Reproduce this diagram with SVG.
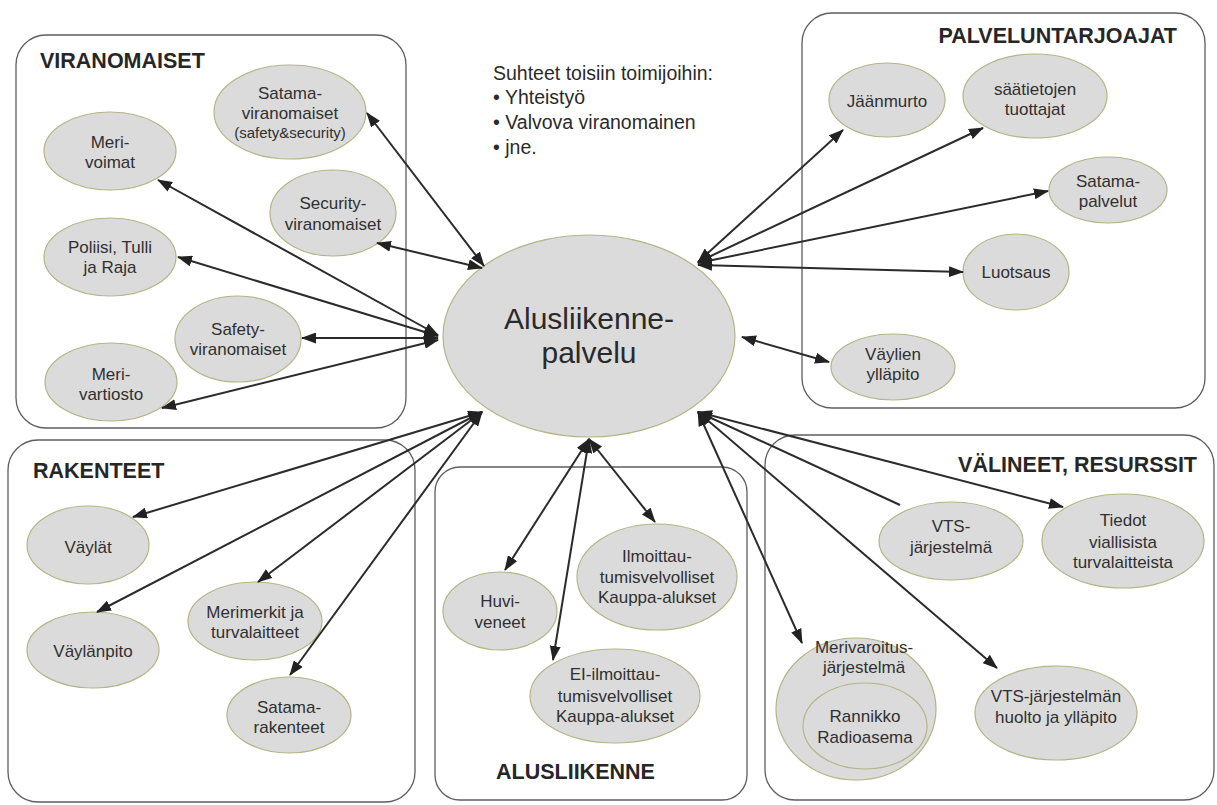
<svg xmlns="http://www.w3.org/2000/svg" width="1217" height="805" viewBox="0 0 1217 805">
<style>
.box{fill:none;stroke:#5e5e5e;stroke-width:1.3}
.ttl{font-family:"Liberation Sans",Arial,sans-serif;font-weight:bold;font-size:21.5px;fill:#262626}
.nd ellipse{fill:#dbdbdb;stroke:#b4b486;stroke-width:1.2}
.nd text{font-family:"Liberation Sans",Arial,sans-serif;font-size:17px;fill:#303030;text-anchor:middle}
.nd text.sm{font-size:15px}
.hub text{font-size:30px;fill:#2a2a2a}
.note{font-family:"Liberation Sans",Arial,sans-serif;font-size:19.5px;fill:#2a2a2a}
.cn line{stroke:#2b2b2b;stroke-width:2}
.bi{marker-start:url(#ah);marker-end:url(#ah)}
.sg{marker-start:url(#ah)}
</style>
<defs>
<marker id="ah" markerUnits="userSpaceOnUse" markerWidth="15" markerHeight="11" refX="14" refY="5.5" orient="auto-start-reverse" viewBox="0 0 15 11">
<path d="M0,0 L15,5.5 L0,11 z" fill="#222"/>
</marker>
</defs>
<rect width="1217" height="805" fill="#fff"/>

<g id="groups">
<rect class="box" x="16" y="35" width="390" height="393" rx="30"/>
<text class="ttl" x="40" y="68">VIRANOMAISET</text>
<rect class="box" x="802" y="13" width="403" height="395" rx="30"/>
<text class="ttl" x="1177" y="43" text-anchor="end">PALVELUNTARJOAJAT</text>
<rect class="box" x="8" y="440" width="407" height="362" rx="30"/>
<text class="ttl" x="33" y="478">RAKENTEET</text>
<rect class="box" x="435" y="467" width="312" height="333" rx="25"/>
<text class="ttl" x="496" y="779">ALUSLIIKENNE</text>
<rect class="box" x="765" y="435" width="449" height="365" rx="30"/>
<text class="ttl" x="1197" y="472" text-anchor="end">VÄLINEET, RESURSSIT</text>
</g>

<g id="note" class="note">
<text x="493" y="80">Suhteet toisiin toimijoihin:</text>
<text x="493" y="104">• Yhteistyö</text>
<text x="493" y="129">• Valvova viranomainen</text>
<text x="493" y="154">• jne.</text>
</g>

<g id="n-hub" class="nd hub"><ellipse cx="589" cy="336" rx="146" ry="101"/><text x="589" y="329">Alusliikenne-</text><text x="589" y="363">palvelu</text></g>

<g id="n-satamaviranomaiset" class="nd"><ellipse cx="290" cy="112" rx="76" ry="47"/><text x="290" y="99">Satama-</text><text x="290" y="119">viranomaiset</text><text class="sm" x="290" y="138">(safety&amp;security)</text></g>
<g id="n-merivoimat" class="nd"><ellipse cx="110" cy="151" rx="66" ry="39"/><text x="110" y="148">Meri-</text><text x="110" y="168">voimat</text></g>
<g id="n-security" class="nd"><ellipse cx="333" cy="213" rx="63" ry="43"/><text x="333" y="209">Security-</text><text x="333" y="230">viranomaiset</text></g>
<g id="n-poliisi" class="nd"><ellipse cx="110" cy="257" rx="66" ry="39"/><text x="110" y="253">Poliisi, Tulli</text><text x="110" y="273">ja Raja</text></g>
<g id="n-safety" class="nd"><ellipse cx="238" cy="339" rx="63" ry="43"/><text x="238" y="335">Safety-</text><text x="238" y="355">viranomaiset</text></g>
<g id="n-merivartiosto" class="nd"><ellipse cx="111" cy="382" rx="66" ry="39"/><text x="111" y="380">Meri-</text><text x="111" y="400">vartiosto</text></g>

<g id="n-jaanmurto" class="nd"><ellipse cx="887" cy="100" rx="58" ry="37"/><text x="887" y="107">Jäänmurto</text></g>
<g id="n-saatietojen" class="nd"><ellipse cx="1035" cy="96" rx="72" ry="42"/><text x="1035" y="95">säätietojen</text><text x="1035" y="115">tuottajat</text></g>
<g id="n-satamapalvelut" class="nd"><ellipse cx="1108" cy="190" rx="59" ry="33"/><text x="1108" y="187">Satama-</text><text x="1108" y="207">palvelut</text></g>
<g id="n-luotsaus" class="nd"><ellipse cx="1016" cy="272" rx="53" ry="38"/><text x="1016" y="278">Luotsaus</text></g>
<g id="n-vaylienyllapito" class="nd"><ellipse cx="893" cy="367" rx="62" ry="33"/><text x="893" y="360">Väylien</text><text x="893" y="380">ylläpito</text></g>

<g id="n-vaylat" class="nd"><ellipse cx="88" cy="545" rx="61" ry="39"/><text x="88" y="553">Väylät</text></g>
<g id="n-vaylanpito" class="nd"><ellipse cx="93" cy="650" rx="66" ry="38"/><text x="93" y="657">Väylänpito</text></g>
<g id="n-merimerkit" class="nd"><ellipse cx="255" cy="621" rx="67" ry="39"/><text x="255" y="618">Merimerkit ja</text><text x="255" y="638">turvalaitteet</text></g>
<g id="n-satamarakenteet" class="nd"><ellipse cx="289" cy="715" rx="62" ry="38"/><text x="289" y="713">Satama-</text><text x="289" y="733">rakenteet</text></g>

<g id="n-huviveneet" class="nd"><ellipse cx="500" cy="611" rx="57" ry="39"/><text x="500" y="607">Huvi-</text><text x="500" y="628">veneet</text></g>
<g id="n-ilmoittau" class="nd"><ellipse cx="657" cy="577" rx="80" ry="53"/><text x="657" y="562">Ilmoittau-</text><text x="657" y="583">tumisvelvolliset</text><text x="657" y="603">Kauppa-alukset</text></g>
<g id="n-eiilmoittau" class="nd"><ellipse cx="615" cy="696" rx="85" ry="47"/><text x="615" y="680">EI-ilmoittau-</text><text x="615" y="702">tumisvelvolliset</text><text x="615" y="722">Kauppa-alukset</text></g>

<g id="n-vts" class="nd"><ellipse cx="951" cy="541" rx="72" ry="39"/><text x="951" y="532">VTS-</text><text x="951" y="553">järjestelmä</text></g>
<g id="n-tiedot" class="nd"><ellipse cx="1123" cy="541" rx="81" ry="47"/><text x="1123" y="526">Tiedot</text><text x="1123" y="548">viallisista</text><text x="1123" y="568">turvalaitteista</text></g>
<g id="n-merivaroitus" class="nd"><ellipse cx="856" cy="709" rx="80" ry="71"/><text x="864" y="653">Merivaroitus-</text><text x="864" y="673">järjestelmä</text></g>
<g id="n-rannikko" class="nd"><ellipse cx="865" cy="726" rx="62" ry="43"/><text x="865" y="722">Rannikko</text><text x="865" y="743">Radioasema</text></g>
<g id="n-vtshuolto" class="nd"><ellipse cx="1056" cy="713" rx="81" ry="47"/><text x="1056" y="702">VTS-järjestelmän</text><text x="1056" y="723">huolto ja ylläpito</text></g>

<g id="connectors" class="cn">
<line class="bi" x1="484" y1="266" x2="367" y2="113"/>
<line class="bi" x1="482" y1="268" x2="377" y2="243"/>
<line class="bi" x1="438" y1="335" x2="158" y2="180"/>
<line class="bi" x1="438" y1="336" x2="178" y2="257"/>
<line class="bi" x1="438" y1="338" x2="302" y2="338"/>
<line class="bi" x1="438" y1="340" x2="162" y2="408"/>
<line class="bi" x1="482" y1="412" x2="133" y2="517"/>
<line class="bi" x1="482" y1="412" x2="97" y2="612"/>
<line class="bi" x1="482" y1="412" x2="258" y2="582"/>
<line class="bi" x1="482" y1="412" x2="290" y2="675"/>
<line class="bi" x1="589" y1="439" x2="505" y2="570"/>
<line class="bi" x1="589" y1="439" x2="655" y2="522"/>
<line class="bi" x1="589" y1="439" x2="553" y2="660"/>
<line class="bi" x1="698" y1="262" x2="843" y2="130"/>
<line class="bi" x1="698" y1="262" x2="983" y2="128"/>
<line class="bi" x1="698" y1="263" x2="1048" y2="191"/>
<line class="bi" x1="698" y1="265" x2="963" y2="272"/>
<line class="bi" x1="742" y1="337" x2="829" y2="362"/>
<line class="sg" x1="698" y1="412" x2="900" y2="505"/>
<line class="bi" x1="698" y1="412" x2="1063" y2="507"/>
<line class="bi" x1="698" y1="412" x2="802" y2="643"/>
<line class="bi" x1="698" y1="412" x2="997" y2="668"/>
</g>
</svg>
